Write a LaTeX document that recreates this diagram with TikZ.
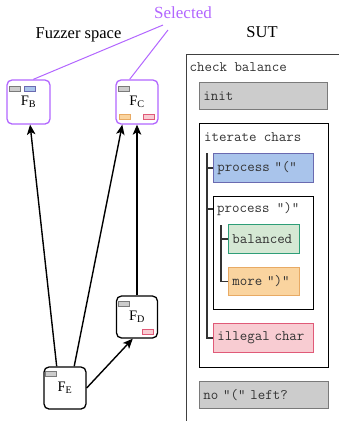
\documentclass[tikz,border=0pt]{standalone}
\usepackage{fontspec}
\setmainfont{Liberation Serif}
\usetikzlibrary{arrows.meta,calc}

\definecolor{selcol}{HTML}{B266FF}
\definecolor{grayfill}{HTML}{CCCCCC}
\definecolor{grayline}{HTML}{7A7A7A}
\definecolor{bluefill}{HTML}{A9C4EB}
\definecolor{blueline}{HTML}{6A6AB0}
\definecolor{greenfill}{HTML}{D5E8D4}
\definecolor{greenline}{HTML}{2E9E78}
\definecolor{orangefill}{HTML}{FAD49F}
\definecolor{orangeline}{HTML}{E8AA64}
\definecolor{pinkfill}{HTML}{F8CCD2}
\definecolor{pinkline}{HTML}{E05A78}
\definecolor{codetext}{HTML}{333333}

\tikzset{
  fuzz/.style={draw=black, line width=1.3pt, rounded corners=5pt, fill=white,
    inner sep=0pt, font=\fontsize{14.5}{16}\selectfont},
  selfuzz/.style={fuzz, draw=selcol},
  chip/.style={draw=#1line, fill=#1fill, line width=0.7pt, minimum width=11pt,
    minimum height=5pt, inner sep=0pt},
  edge/.style={line width=1.4pt, -{Stealth[length=10pt,width=8.5pt,inset=2.5pt]}},
  selline/.style={draw=selcol, line width=1pt},
  heading/.style={font=\fontsize{16.5}{18}\selectfont, anchor=base, inner sep=0pt},
  code/.style={font=\fontsize{14.5}{16}\ttfamily, text=codetext},
  sutbox/.style={code, line width=0.9pt, anchor=north west, align=left,
    inner xsep=4pt, inner ysep=0pt, text width=#1-8pt},
  frame/.style={draw=black, line width=1.3pt, anchor=north west, inner sep=0pt},
  caption/.style={code, anchor=west, inner sep=0pt},
  tree/.style={draw=black!80, line width=1.4pt},
}

\begin{document}
\begin{tikzpicture}[x=1pt, y=-1pt]
\useasboundingbox (0,0) rectangle (339,421);
\clip (0,0) rectangle (339,421);

% ---------- fuzzer space ----------
\node[heading] (fz) at (78.5,38) {Fuzzer space};
\node[heading, text=selcol, font=\fontsize{17}{19}\selectfont] (sel) at (183,18) {Selected};
\node[heading] (sut) at (262,37) {SUT};

\node[selfuzz, minimum width=43pt, minimum height=44pt] (B) at (28.5,102) {$\mathrm{F_B}$};
\node[selfuzz, minimum width=42pt, minimum height=44pt] (C) at (137,102) {$\mathrm{F_C}$};
\node[fuzz, minimum width=41pt, minimum height=42pt] (D) at (137,317) {$\mathrm{F_D}$};
\node[fuzz, minimum width=42pt, minimum height=42pt] (E) at (65,388) {$\mathrm{F_E}$};

% coverage chips
\node[chip=gray, anchor=north west] (b1) at ($(B.north west)+(2.5,6.5)$) {};
\node[chip=blue, anchor=west] (b2) at ($(b1.east)+(3,0)$) {};
\node[chip=gray, anchor=north west] (c1) at ($(C.north west)+(2.5,6.5)$) {};
\node[chip=orange, anchor=south west] (c2) at ($(C.south west)+(4,-5)$) {};
\node[chip=pink, anchor=south east] (c3) at ($(C.south east)+(-3.5,-5)$) {};
\node[chip=gray, anchor=north west] (d1) at ($(D.north west)+(2,6)$) {};
\node[chip=pink, anchor=south east] (d2) at ($(D.south east)+(-4,-4)$) {};
\node[chip=gray, anchor=north west] (e1) at ($(E.north west)+(2,5)$) {};

% selection markers
\coordinate (s1) at (163,25);
\coordinate (s2) at (168,30);
\draw[selline] (s1) -- (B.78);
\draw[selline] (s2) -- (C.108);

% derivation edges
\draw[edge] (E.111) -- (B.274);
\draw[edge] (E.67) -- (C.237);
\draw[edge] (D.north) -- (C.south);
\draw[edge] (E.east) -- (D.259);

% ---------- system under test ----------
\node[frame, line width=1pt, draw=black!75, minimum width=170pt, minimum height=400pt] (cb) at (186,54) {};
\node[caption] (cbl) at ($(cb.north west)+(3.5,13)$) {check balance};

\node[sutbox=128pt, draw=grayline, fill=grayfill, minimum height=27pt] (in) at (199,82) {init};

\node[frame, minimum width=129pt, minimum height=244pt] (it) at (199,123) {};
\node[caption] (itl) at ($(it.north west)+(5,14)$) {iterate chars};

\node[sutbox=100pt, draw=blueline, fill=bluefill, minimum height=29pt] (pa) at (213,153) {process "("};

\node[frame, minimum width=100pt, minimum height=113pt] (pc) at (213,196) {};
\node[caption] (pcl) at ($(pc.north west)+(4,13)$) {process ")"};

\node[sutbox=71pt, draw=greenline, fill=greenfill, minimum height=29pt] (ba) at (228,224) {balanced};
\node[sutbox=71pt, draw=orangeline, fill=orangefill, minimum height=28pt] (mo) at (228,267) {more ")"};

\node[sutbox=100pt, draw=pinkline, fill=pinkfill, minimum height=29pt] (il) at (213,323) {illegal char};

\node[sutbox=129pt, draw=grayline, fill=grayfill, minimum height=27pt] (nl) at (199,381) {no "(" left?};

% control-flow trees
\coordinate (t1) at (207,153);
\draw[tree] (t1) |- (il.west);
\draw[tree] (t1 |- pa.west) -- (pa.west);
\draw[tree] (t1 |- pcl.west) -- (pc.west |- pcl.west);

\coordinate (t2) at (221,225);
\draw[tree] (t2) |- (mo.west);
\draw[tree] (t2 |- ba.west) -- (ba.west);
\end{tikzpicture}
\end{document}
